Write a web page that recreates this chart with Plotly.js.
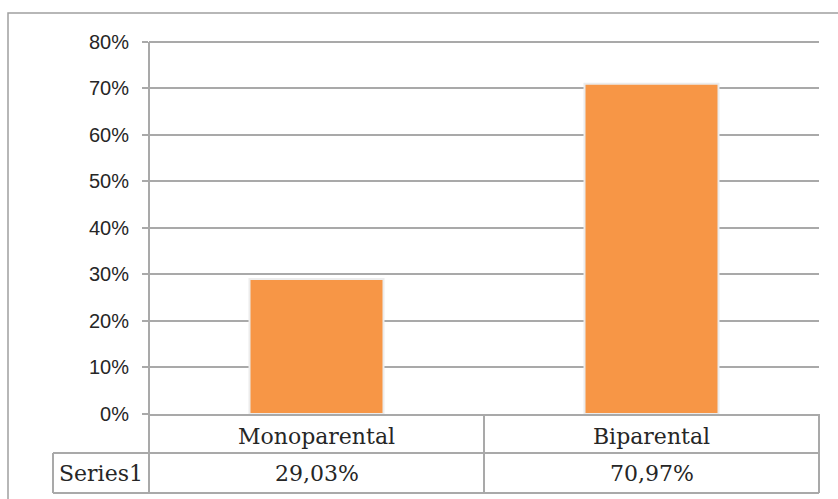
<!DOCTYPE html>
<html>
<head>
<meta charset="utf-8">
<script src="https://cdn.plot.ly/plotly-3.0.1.min.js"></script>
<style>html,body{margin:0;padding:0;background:#fff;}#chart{width:838px;height:499px;}</style>
</head>
<body>
<div id="chart"></div>
<script>
// Data
const categories = ['Monoparental', 'Biparental'];
const values = [0.2903, 0.7097];
const seriesName = 'Series1';
const yTickVals = [0, 0.1, 0.2, 0.3, 0.4, 0.5, 0.6, 0.7, 0.8];
const yTickText = ['0%', '10%', '20%', '30%', '40%', '50%', '60%', '70%', '80%'];

// Layout geometry (pixels)
const W = 838, H = 499;
const L = 149, R = 819, T = 37, B = 414;
const pw = R - L, ph = B - T;
const px = x => (x - L) / pw;
const py = y => (B - y) / ph;
const axisTop = 42;

const gridColor = '#a9a9a9';
const textColor = '#262626';
const serif = 'DejaVu Serif, serif';

function fmt(v) {
  return (v * 100).toFixed(2).replace('.', ',') + '%';
}

const trace = {
  type: 'bar',
  x: categories,
  y: values,
  name: seriesName,
  marker: { color: '#F79646', line: { color: '#ececec', width: 2 } },
  hoverinfo: 'none'
};

const row1 = 453, row2 = 493, tableLeft = 53;
const lineStyle = { color: gridColor, width: 2 };
const shapes = [
  // outer chart border
  { type: 'rect', xref: 'paper', yref: 'paper', x0: px(8), x1: px(845), y0: py(13), y1: py(505), line: { color: '#a0a0a0', width: 1.5 } },
  // y axis line (extends through the data table)
  { type: 'line', xref: 'paper', yref: 'paper', x0: 0, x1: 0, y0: py(row2), y1: py(axisTop), line: lineStyle },
  // table horizontal lines
  { type: 'line', xref: 'paper', yref: 'paper', x0: px(tableLeft), x1: px(R), y0: py(row1), y1: py(row1), line: lineStyle },
  { type: 'line', xref: 'paper', yref: 'paper', x0: px(tableLeft), x1: px(R), y0: py(row2), y1: py(row2), line: lineStyle },
  // table vertical lines
  { type: 'line', xref: 'paper', yref: 'paper', x0: px(tableLeft), x1: px(tableLeft), y0: py(row1), y1: py(row2), line: lineStyle },
  { type: 'line', xref: 'paper', yref: 'paper', x0: 0.5, x1: 0.5, y0: 0, y1: py(row2), line: lineStyle },
  { type: 'line', xref: 'paper', yref: 'paper', x0: 1, x1: 1, y0: 0, y1: py(row2), line: lineStyle }
];

const annotations = categories.map((c, i) => ({
  xref: 'x', yref: 'paper', x: c, y: py((row1 + row2) / 2),
  text: fmt(values[i]), showarrow: false, xanchor: 'center', yanchor: 'middle',
  font: { family: serif, size: 22, color: textColor }
}));
annotations.push({
  xref: 'paper', yref: 'paper', x: px((tableLeft + L) / 2), y: py((row1 + row2) / 2),
  text: seriesName, showarrow: false, xanchor: 'center', yanchor: 'middle',
  font: { family: serif, size: 22, color: textColor }
});

const layout = {
  width: W, height: H,
  margin: { l: L, r: W - R, t: T, b: H - B, pad: 0 },
  paper_bgcolor: '#ffffff', plot_bgcolor: '#ffffff',
  showlegend: false,
  bargap: 0.6,
  xaxis: {
    type: 'category',
    showgrid: false, zeroline: false,
    showline: true, linecolor: gridColor, linewidth: 2,
    ticks: '',
    tickfont: { family: serif, size: 22, color: textColor },
    ticklabelstandoff: 2,
    fixedrange: true
  },
  yaxis: {
    range: [0, 0.81],
    tickvals: yTickVals, ticktext: yTickText,
    showgrid: true, gridcolor: gridColor, gridwidth: 2,
    zeroline: false,
    showline: false,
    ticks: 'outside', ticklen: 6, tickcolor: gridColor, tickwidth: 2,
    tickfont: { family: 'Liberation Sans, Arial, sans-serif', size: 20, color: textColor },
    ticklabelstandoff: 9,
    fixedrange: true
  },
  shapes: shapes,
  annotations: annotations
};

Plotly.newPlot('chart', [trace], layout, { displayModeBar: false, staticPlot: true });
</script>
</body>
</html>
